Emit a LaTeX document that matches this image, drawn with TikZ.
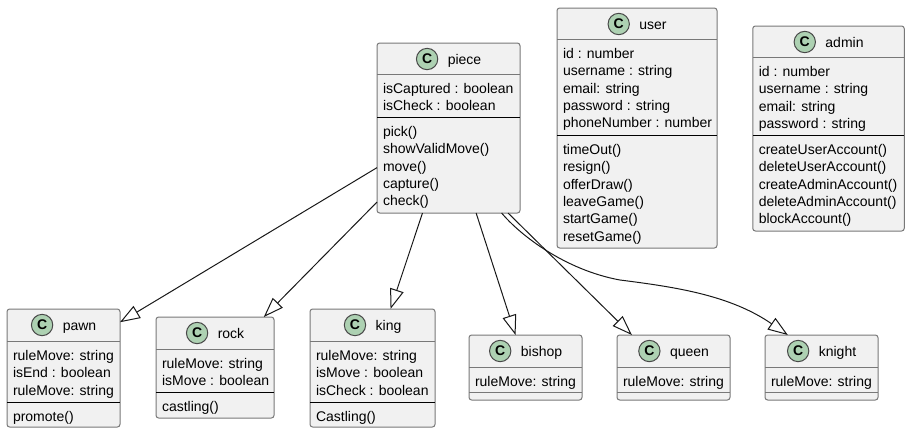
\documentclass[tikz,border=0pt]{standalone}
\usepackage{fontspec}
\setmainfont{Liberation Sans}
\usepackage{xcolor}
\usetikzlibrary{arrows.meta,positioning}
\definecolor{classfill}{RGB}{241,241,241}
\definecolor{classedge}{RGB}{120,120,120}
\definecolor{iconfill}{RGB}{173,209,178}
\definecolor{linkcolor}{RGB}{24,24,24}
\tikzstyle{classbody} = [rectangle, rounded corners=2pt, draw=classedge, fill=classfill, line width=0.75pt, inner sep=0pt, outer sep=0pt]
\tikzstyle{classtitle} = [inner sep=0pt, outer sep=0pt, text height=10pt, text depth=2.5pt, font=\fontsize{10.5}{13}\selectfont]
\tikzstyle{classicon} = [circle, draw=classedge!60!black, fill=iconfill, line width=0.75pt, minimum size=16pt, inner sep=0pt, outer sep=0pt, font=\fontsize{10.5}{13}\selectfont\bfseries]
\tikzstyle{members} = [anchor=north west, align=left, inner sep=0pt, outer sep=0pt, font=\fontsize{10.5}{13}\selectfont]
\tikzstyle{headline} = [draw=classedge, line width=0.75pt]
\tikzstyle{sepline} = [draw=black, line width=0.75pt]
\tikzstyle{extends} = [draw=linkcolor, line width=0.75pt, -{Triangle[open, fill=white, length=15pt, width=10.5pt]}]
% box, header line, icon and title: id, centre x, centre y, width, height, title
\newcommand{\classbox}[6]{
  \node (#1) [classbody, minimum width=#4*0.75pt, minimum height=#5*0.75pt] at (#2,#3) {};
  \node (#1-title) [classtitle, anchor=center] at ([xshift=12pt, yshift=-12pt]#1.north) {#6};
  \node (#1-icon) [classicon, left=7.5pt of #1-title] {C};
}
% lines and member lists: [separator style], id, y of header line, y of separator, fields, methods
\newcommand{\classlists}[6][sepline]{
  \coordinate (#2-head) at (0,#3);
  \coordinate (#2-sep) at (0,#4);
  \draw[headline] (#2.west |- #2-head) -- (#2.east |- #2-head);
  \draw[#1] (#2.west |- #2-sep) -- (#2.east |- #2-sep);
  \node (#2-fields) [members] at ([xshift=4.5pt, yshift=-5.5pt]#2.west |- #2-head) {\strut #5};
  \node (#2-methods) [members] at ([xshift=4.5pt, yshift=-5.5pt]#2.west |- #2-sep) {\strut #6};
}
\begin{document}
\begin{tikzpicture}[x=0.75pt, y=-0.75pt]
\useasboundingbox (0,0) rectangle (910,433);

% Top row
\classbox{piece}{448.5}{128}{143}{170}{piece}
\classlists{piece}{74}{117}{isCaptured : boolean\\isCheck : boolean}{pick()\\showValidMove()\\move()\\capture()\\check()}
\classbox{user}{637}{128}{160}{240}{user}
\classlists{user}{39}{135}{id : number\\username : string\\email: string\\password : string\\phoneNumber : number}{timeOut()\\resign()\\offerDraw()\\leaveGame()\\startGame()\\resetGame()}
\classbox{admin}{828.5}{128.5}{151.5}{205}{admin}
\classlists{admin}{57}{135}{id : number\\username : string\\email: string\\password : string}{createUserAccount()\\deleteUserAccount()\\createAdminAccount()\\deleteAdminAccount()\\blockAccount()}

% Bottom row
\classbox{pawn}{63.5}{368}{113}{118}{pawn}
\classlists{pawn}{341}{402}{ruleMove: string\\isEnd : boolean\\ruleMove: string}{promote()}
\classbox{rock}{215}{367.5}{118}{101}{rock}
\classlists{rock}{349}{392}{ruleMove: string\\isMove : boolean}{castling()}
\classbox{king}{372.5}{368}{125}{118}{king}
\classlists{king}{341}{402}{ruleMove: string\\isMove : boolean\\isCheck : boolean}{Castling()}
\classbox{bishop}{525.5}{367.5}{113}{65}{bishop}
\classlists[headline]{bishop}{367}{392}{ruleMove: string}{}
\classbox{queen}{673.5}{367.5}{113}{65}{queen}
\classlists[headline]{queen}{367}{392}{ruleMove: string}{}
\classbox{knight}{821.5}{367.5}{113}{65}{knight}
\classlists[headline]{knight}{367}{392}{ruleMove: string}{}

% Inheritance arrows
\draw[extends] (piece.209.2) -- (pawn.39.2);
\draw[extends] (piece.226) -- (rock.46.5);
\draw[extends] (piece.-107.3) -- (king.73.5);
\draw[extends] (piece.-72.7) -- (bishop.107.9);
\draw[extends] (piece.-55) -- (queen.142);
\coordinate (knightbend) at (620,280);
\draw[extends] (piece.-58.8) .. controls (520,235) and (565,270) .. (knightbend) .. controls (675,287) and (730,295) .. (knight.136.7);
\end{tikzpicture}
\end{document}
